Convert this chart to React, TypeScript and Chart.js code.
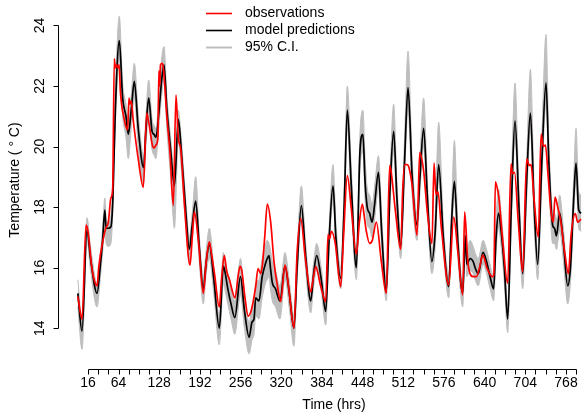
import React, { useEffect, useRef } from "react";
import { Chart, registerables } from "chart.js";

Chart.register(...registerables);

// ---- Model predictions (time in hrs, temperature in °C) with 95% C.I. bounds ----
const predTime = [
  0, 6.6, 14.4, 20, 30.2, 36, 39, 42.5, 44.5, 48,
  52, 55, 59, 65.3, 70.5, 75.7, 79.4, 84, 88.9, 95,
  103.5, 107, 111.5, 116.8, 120, 123, 127, 132.4, 135.6, 140,
  146, 152, 158.1, 163, 170, 175.4, 180, 185.4, 191, 197.4,
  202, 206.9, 214, 222.6, 229, 232, 236, 241, 247, 255.9,
  262, 269.5, 274, 277.2, 279.8, 285, 290, 295.5, 298, 300.8,
  303, 306, 311, 318, 325.9, 333, 340, 345, 351.7, 358,
  366.4, 371, 375.8, 383, 390, 395, 401.5, 406, 413.6, 419,
  424, 430, 438.2, 444, 448.5, 452, 455.5, 459, 463, 467,
  473, 478, 485.3, 491, 496.9, 502, 508, 514, 519.5, 526,
  533.6, 538, 544.1, 550, 557, 562, 567.7, 575, 583.5, 588,
  592.4, 598, 605.5, 609.7, 612, 617, 622, 625, 630, 637.5,
  643, 648.6, 654.2, 658, 662, 666, 671, 676.3, 682, 687.8,
  694, 699.9, 706, 712, 718, 723.5, 730, 736.6, 741, 747,
  750, 753, 758, 764, 770.7, 775, 780, 783.8, 788, 792,
];
const predTemp = [
  15.15, 13.9, 17.25, 16.3, 15.15, 16.2, 16.9, 17.9, 17.3, 17.3,
  17.35, 18.2, 21.2, 23.5, 21.6, 21.0, 20.4, 21.2, 22.15, 20.6,
  19.3, 20.5, 21.6, 20.5, 20.4, 20.3, 21.0, 22.3, 22.7, 21.25,
  19.9, 18.7, 20.9, 19.8, 17.8, 16.6, 17.4, 18.2, 16.7, 15.3,
  16.2, 16.75, 15.6, 14.0, 16.05, 15.8, 15.3, 14.8, 14.35, 15.7,
  14.6, 13.7, 14.2, 14.3, 15.0, 14.9, 15.7, 16.15, 16.3, 16.4,
  16.0, 15.5, 15.3, 14.9, 16.05, 15.1, 14.0, 16.0, 18.05, 16.5,
  14.9, 15.8, 16.4, 15.6, 14.55, 16.8, 18.7, 17.0, 15.65, 18.0,
  21.2, 18.8, 16.0, 19.9, 20.4, 18.8, 17.97, 17.8, 17.5, 18.1,
  19.15, 17.2, 15.2, 18.5, 20.5, 18.3, 16.7, 19.5, 21.95, 19.0,
  17.4, 18.9, 20.6, 18.3, 16.2, 17.1, 19.4, 17.0, 15.37, 17.5,
  18.85, 16.8, 15.15, 17.05, 16.1, 16.3, 16.2, 16.0, 15.8, 16.5,
  16.2, 15.7, 15.3, 17.0, 17.8, 17.2, 16.0, 14.3, 18.0, 20.85,
  18.0, 15.8, 18.8, 21.1, 18.0, 16.1, 19.5, 22.1, 19.5, 17.4,
  17.3, 17.05, 17.8, 16.8, 15.4, 16.0, 18.2, 19.45, 17.9, 17.8,
];
const ciLower = [
  14.7, 13.3, 16.9, 15.9, 14.7, 15.8, 16.5, 17.2, 16.8, 16.7,
  16.8, 17.8, 20.7, 22.8, 21.0, 20.3, 19.6, 20.6, 21.6, 20.0,
  18.8, 20.0, 21.0, 19.9, 19.7, 19.6, 20.5, 21.8, 22.2, 20.6,
  19.0, 17.3, 20.2, 19.2, 17.3, 16.2, 17.0, 17.8, 16.2, 14.8,
  15.8, 16.3, 15.1, 13.45, 15.5, 15.2, 14.8, 14.3, 13.8, 15.1,
  14.0, 13.15, 13.6, 13.8, 14.4, 14.3, 15.0, 15.5, 15.6, 15.7,
  15.3, 14.9, 14.7, 14.3, 15.6, 14.6, 13.4, 15.6, 17.6, 16.0,
  14.5, 15.4, 15.9, 15.2, 14.1, 16.4, 18.2, 16.6, 15.3, 17.5,
  20.6, 18.2, 15.6, 19.3, 19.8, 18.2, 17.4, 17.3, 17.0, 17.6,
  18.6, 16.7, 14.9, 18.0, 19.8, 17.8, 16.3, 19.0, 21.2, 18.4,
  16.9, 18.4, 20.0, 17.8, 15.8, 16.6, 18.9, 16.6, 15.0, 17.0,
  18.3, 16.3, 14.7, 16.6, 15.7, 15.9, 15.8, 15.6, 15.4, 16.1,
  15.8, 15.3, 14.9, 16.5, 17.3, 16.7, 15.5, 13.85, 17.5, 20.2,
  17.4, 15.3, 18.2, 20.5, 17.4, 15.6, 18.9, 21.4, 18.9, 16.8,
  16.8, 16.6, 17.2, 16.2, 14.8, 15.5, 17.6, 18.9, 17.3, 17.2,
];
const ciUpper = [
  15.6, 14.3, 17.65, 16.7, 15.5, 16.6, 17.3, 18.3, 17.6, 17.5,
  17.7, 18.6, 21.8, 24.3, 22.1, 21.4, 20.8, 21.7, 22.75, 21.1,
  19.7, 21.0, 22.2, 20.9, 20.7, 20.6, 21.5, 23.0, 23.3, 21.7,
  20.3, 19.1, 21.2, 20.2, 18.2, 17.0, 17.8, 19.0, 17.1, 15.7,
  16.6, 17.3, 16.0, 14.4, 16.5, 16.2, 15.8, 15.3, 14.9, 16.3,
  15.1, 14.2, 14.7, 14.9, 15.5, 15.6, 16.3, 16.8, 16.9, 16.8,
  16.6, 16.2, 15.9, 15.4, 16.5, 15.5, 14.4, 16.5, 18.7, 16.9,
  15.3, 16.2, 16.8, 16.0, 14.9, 17.2, 19.4, 17.5, 16.0, 18.6,
  22.0, 19.4, 16.5, 20.5, 21.2, 19.6, 18.6, 18.4, 18.1, 18.7,
  19.7, 17.7, 15.6, 19.0, 21.4, 18.9, 17.1, 20.3, 23.15, 19.6,
  17.8, 19.5, 21.6, 18.8, 16.6, 17.6, 20.8, 17.5, 15.8, 18.0,
  20.2, 17.3, 15.5, 17.6, 16.6, 16.9, 16.7, 16.5, 16.3, 16.9,
  16.6, 16.1, 15.7, 17.6, 18.6, 17.8, 16.5, 14.8, 18.8, 22.1,
  18.6, 16.2, 19.5, 22.55, 18.6, 16.5, 20.3, 23.7, 20.2, 17.9,
  17.8, 17.6, 18.4, 17.3, 15.8, 16.5, 18.9, 20.6, 18.5, 18.4,
];

// ---- Observations ----
const obsTime = [
  0, 6.6, 12.9, 16, 22, 28, 30.5, 32.8, 40, 44,
  48, 52, 54.8, 57.4, 59, 61, 63, 65, 67, 72,
  78.3, 80.5, 82, 84, 87, 95, 103, 108.4, 111.6, 117.8,
  120, 123, 126, 127.5, 129, 130, 133, 135, 140, 145,
  150.2, 154.4, 158, 162, 168, 176.5, 180, 183.3, 190, 197.4,
  202, 206.9, 210, 215, 222.6, 226, 230.5, 234, 238.6, 247.3,
  252, 255.1, 258, 263, 268, 273, 279.8, 283.5, 287.7, 290.3,
  294, 298.1, 303.4, 308.6, 314, 319.1, 325.9, 332, 340, 345,
  350.6, 358, 366.4, 370, 374.2, 382, 390, 393.6, 396, 398.9,
  405, 413.6, 418, 424, 430, 438.2, 443, 447.6, 450, 453.9,
  459, 463.3, 469.6, 477.5, 485.3, 490.5, 493, 500, 508, 511,
  514.3, 518, 521, 526, 533.6, 537.8, 544, 550, 557.2, 560.4,
  563.5, 566.6, 572, 583.5, 591.4, 598, 605.5, 608.6, 613.6, 617,
  622, 627, 632, 637, 644, 652, 654.5, 656.9, 661, 663,
  668, 676.3, 681.5, 684, 687, 693, 699.9, 706.2, 710.4, 713,
  718, 724.5, 728.8, 732.5, 735.6, 740, 744.4, 748, 750.8, 755,
  760, 766, 771.8, 776, 782.7, 786.4, 791.6,
];
const obsTemp = [
  15.05, 14.3, 17.4, 17.2, 16.0, 15.45, 15.4, 16.0, 16.95, 17.3,
  17.5, 18.3, 18.6, 22.9, 22.6, 22.7, 22.6, 22.7, 21.8, 21.0,
  20.55, 21.6, 21.4, 21.5, 20.9, 19.6, 18.65, 21.1, 20.8, 20.0,
  19.95, 20.05, 20.3, 22.5, 22.0, 22.7, 22.75, 22.5, 21.0, 19.8,
  18.05, 21.7, 20.3, 19.9, 18.0, 16.08, 17.0, 17.84, 16.8, 15.15,
  16.2, 16.85, 16.5, 15.8, 14.7, 15.6, 16.4, 15.9, 15.6, 15.0,
  15.7, 16.04, 15.9, 15.0, 14.4, 14.6, 15.37, 15.97, 15.8, 16.07,
  17.0, 18.1, 17.5, 16.2, 15.4, 14.88, 16.08, 15.3, 14.0, 16.5,
  17.62, 16.3, 15.2, 15.6, 16.03, 15.4, 14.88, 17.1, 16.95, 17.2,
  16.8, 15.37, 17.0, 19.04, 18.0, 16.45, 17.5, 18.1, 17.8, 17.2,
  16.8, 16.9, 17.5, 16.2, 15.15, 19.37, 19.15, 17.8, 16.6, 18.5,
  19.4, 19.4, 19.3, 18.7, 17.07, 19.8, 19.2, 17.8, 16.8, 19.45,
  18.4, 18.5, 17.3, 15.43, 17.67, 16.5, 15.1, 17.84, 16.18, 15.8,
  15.7, 15.7, 16.0, 16.41, 15.97, 15.7, 15.75, 18.83, 18.5, 18.2,
  17.0, 15.48, 19.43, 19.1, 19.15, 17.5, 15.86, 19.59, 19.37, 19.4,
  18.2, 17.0, 20.41, 20.0, 20.05, 19.0, 17.84, 17.5, 18.33, 18.0,
  17.5, 16.5, 15.8, 17.07, 17.78, 17.5, 17.6,
];

// ---- Axes ----
const xTickMarks = [
  16, 32, 48, 64, 80, 96, 112, 128, 144, 160, 176, 192, 208, 224, 240, 256,
  272, 288, 304, 320, 336, 352, 368, 384, 400, 416, 432, 448, 464, 480, 496,
  512, 528, 544, 560, 576, 592, 608, 624, 640, 656, 672, 688, 704, 720, 736,
  752, 768, 784,
];
const xTickLabels = [16, 64, 128, 192, 256, 320, 384, 448, 512, 576, 640, 704, 768];
const yTickLabels = [14, 16, 18, 20, 22, 24];
const xTitle = "Time (hrs)";
const yTitle = "Temperature ( \u00B0 C)";
const legendLabels = ["observations", "model predictions", "95% C.I."];

const RED = "#FF0000";
const BLACK = "#000000";
const GREY = "rgb(190,190,190)";
const FONT = '14px "Liberation Sans", Arial, Helvetica, sans-serif';

const rStylePlugin = {
  id: "rStyle",
  afterDraw(chart: any) {
    const { ctx, chartArea } = chart;
    const xs = chart.scales.x;
    const ys = chart.scales.y;
    ctx.save();
    ctx.strokeStyle = "#000";
    ctx.fillStyle = "#000";
    ctx.lineWidth = 1;
    ctx.font = FONT;

    // x axis
    const yb = Math.round(chartArea.bottom) + 0.5;
    ctx.beginPath();
    const x0 = Math.round(xs.getPixelForValue(xTickMarks[0])) + 0.5;
    const x1 = Math.round(xs.getPixelForValue(xTickMarks[xTickMarks.length - 1])) + 0.5;
    ctx.moveTo(x0, yb);
    ctx.lineTo(x1, yb);
    xTickMarks.forEach((t) => {
      const px = Math.round(xs.getPixelForValue(t)) + 0.5;
      ctx.moveTo(px, yb);
      ctx.lineTo(px, yb + 5);
    });
    ctx.stroke();
    ctx.textAlign = "center";
    ctx.textBaseline = "middle";
    xTickLabels.forEach((t) => {
      ctx.fillText(String(t), xs.getPixelForValue(t), yb + 14);
    });
    ctx.fillText(xTitle, 334, 405);

    // y axis
    const xl = Math.round(chartArea.left) + 0.5;
    const yTop = Math.round(ys.getPixelForValue(yTickLabels[yTickLabels.length - 1])) + 0.5;
    const yBot = Math.round(ys.getPixelForValue(yTickLabels[0])) + 0.5;
    ctx.beginPath();
    ctx.moveTo(xl, yTop);
    ctx.lineTo(xl, yBot);
    yTickLabels.forEach((v) => {
      const py = Math.round(ys.getPixelForValue(v)) + 0.5;
      ctx.moveTo(xl, py);
      ctx.lineTo(xl - 5, py);
    });
    ctx.stroke();
    yTickLabels.forEach((v) => {
      ctx.save();
      ctx.translate(xl - 18, ys.getPixelForValue(v));
      ctx.rotate(-Math.PI / 2);
      ctx.fillText(String(v), 0, 0);
      ctx.restore();
    });
    ctx.save();
    ctx.translate(15, 180);
    ctx.rotate(-Math.PI / 2);
    ctx.fillText(yTitle, 0, 0);
    ctx.restore();

    // legend
    const legendColors = [RED, BLACK, GREY];
    const legendY = [13.5, 30.5, 47.5];
    ctx.textAlign = "left";
    legendLabels.forEach((lab, i) => {
      ctx.beginPath();
      ctx.strokeStyle = legendColors[i];
      ctx.lineWidth = i === 2 ? 2 : 1.6;
      ctx.moveTo(206, legendY[i]);
      ctx.lineTo(232, legendY[i]);
      ctx.stroke();
      ctx.fillStyle = "#000";
      ctx.fillText(lab, 245, legendY[i]);
    });
    ctx.restore();
  },
};

export default function App() {
  const canvasRef = useRef<HTMLCanvasElement | null>(null);

  useEffect(() => {
    if (!canvasRef.current) return;
    const pts = (ts: number[], vs: number[]) => ts.map((t, i) => ({ x: t, y: vs[i] }));
    const chart = new Chart(canvasRef.current, {
      type: "line",
      data: {
        datasets: [
          {
            label: legendLabels[0],
            data: pts(obsTime, obsTemp),
            borderColor: RED,
            borderWidth: 1.7,
            pointRadius: 0,
            fill: false,
            cubicInterpolationMode: "monotone",
          },
          {
            label: legendLabels[1],
            data: pts(predTime, predTemp),
            borderColor: BLACK,
            borderWidth: 1.7,
            pointRadius: 0,
            fill: false,
            cubicInterpolationMode: "monotone",
          },
          {
            label: "ci-upper",
            data: pts(predTime, ciUpper),
            borderColor: GREY,
            borderWidth: 1,
            pointRadius: 0,
            fill: false,
            cubicInterpolationMode: "monotone",
          },
          {
            label: legendLabels[2],
            data: pts(predTime, ciLower),
            borderColor: GREY,
            backgroundColor: GREY,
            borderWidth: 1,
            pointRadius: 0,
            fill: "-1",
            cubicInterpolationMode: "monotone",
          },
        ],
      } as any,
      options: {
        animation: false,
        responsive: false,
        devicePixelRatio: 1,
        layout: { padding: { left: 58, right: 0, top: 0, bottom: 45 } },
        plugins: {
          legend: { display: false },
          tooltip: { enabled: false },
          filler: { propagate: false },
        },
        scales: {
          x: { type: "linear", min: -31.2, max: 793.2, display: false },
          y: { type: "linear", min: 12.65, max: 24.84, display: false },
        },
      } as any,
      plugins: [rStylePlugin],
    });
    return () => chart.destroy();
  }, []);

  return (
    <div style={{ position: "fixed", left: 0, top: 0, width: 582, height: 414, background: "#fff" }}>
      <canvas ref={canvasRef} width={582} height={414} style={{ display: "block" }} />
    </div>
  );
}
